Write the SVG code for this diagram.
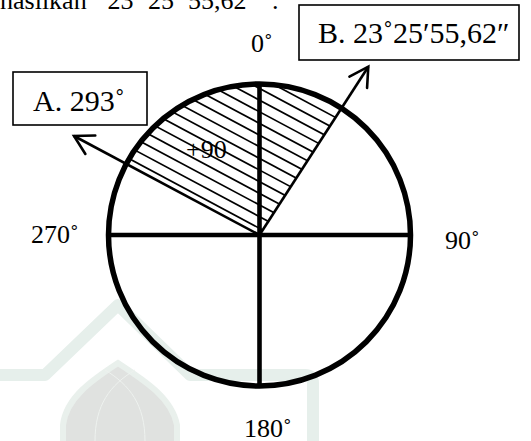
<svg xmlns="http://www.w3.org/2000/svg" width="531" height="441" viewBox="0 0 531 441">
<style>
  text { font-family: "Liberation Serif", "Times New Roman", serif; fill: #000; }
  .lbl { font-size: 26px; }
  .box { fill: #fff; stroke: #000; stroke-width: 1.6; }
  .boxtxt { font-size: 30px; }
  .hatch { stroke: #000; stroke-width: 1.7; }
  .arrow { stroke: #000; stroke-width: 2.6; fill: none; }
  .wm-band { fill: none; stroke: #e6efeb; stroke-width: 12; stroke-linejoin: round; }
</style>
<defs>
  <marker id="openV" markerUnits="userSpaceOnUse" markerWidth="30" markerHeight="30" viewBox="-24 -15 30 30" refX="0" refY="0" orient="auto" overflow="visible">
    <path d="M -18.5 -10.5 L 0 0 L -18.5 10.5" fill="none" stroke="#000" stroke-width="2.6" stroke-linecap="round" stroke-linejoin="miter"/>
  </marker>
  <clipPath id="sector">
    <path d="M 259.5 235 L 126.3 163.9 A 151 151 0 0 1 341.4 108.2 Z"/>
  </clipPath>
</defs>
<rect x="0" y="0" width="531" height="441" fill="#fff"/>

<g id="watermark">
  <path class="wm-band" d="M -10 375 L 45 375 L 118 305 L 190 375 L 305 375 Q 313 375 313 383 L 313 450"/>
  <path d="M 63 445 L 63 425 C 66 398 92 380 118 363 C 144 380 172 398 177 425 L 177 445 Z" fill="#e0e2e0" stroke="#e9f0ec" stroke-width="6"/>
  <path d="M 95 441 C 95 405 110 385 135 370 M 145 441 C 145 405 130 385 105 370" fill="none" stroke="#eef2ef" stroke-width="1"/>
</g>

<g id="top-text">
  <text class="lbl" y="9"><tspan x="0">hasilkan</tspan><tspan x="96">“23</tspan><tspan x="134">˚</tspan><tspan x="148">25</tspan><tspan x="174">′</tspan><tspan x="188">55,62</tspan><tspan x="251">″</tspan><tspan x="272">.</tspan></text>
</g>

<g id="compass">
  <g id="hatching" clip-path="url(#sector)">
    <line class="hatch" x1="83.1" y1="134.1" x2="435.9" y2="322.5"/>
    <line class="hatch" x1="83.1" y1="122.45" x2="435.9" y2="310.85"/>
    <line class="hatch" x1="83.1" y1="110.8" x2="435.9" y2="299.2"/>
    <line class="hatch" x1="83.1" y1="99.15" x2="435.9" y2="287.55"/>
    <line class="hatch" x1="83.1" y1="87.5" x2="435.9" y2="275.9"/>
    <line class="hatch" x1="83.1" y1="75.85" x2="435.9" y2="264.25"/>
    <line class="hatch" x1="83.1" y1="64.2" x2="435.9" y2="252.6"/>
    <line class="hatch" x1="83.1" y1="52.55" x2="435.9" y2="240.95"/>
    <line class="hatch" x1="83.1" y1="40.9" x2="435.9" y2="229.3"/>
    <line class="hatch" x1="83.1" y1="29.25" x2="435.9" y2="217.65"/>
    <line class="hatch" x1="83.1" y1="17.6" x2="435.9" y2="206.0"/>
    <line class="hatch" x1="83.1" y1="5.95" x2="435.9" y2="194.35"/>
    <line class="hatch" x1="83.1" y1="-5.7" x2="435.9" y2="182.7"/>
    <line class="hatch" x1="83.1" y1="-17.35" x2="435.9" y2="171.05"/>
  </g>
  <circle cx="259.5" cy="235" r="151" fill="none" stroke="#000" stroke-width="5.5"/>
  <line x1="107" y1="235" x2="412" y2="235" stroke="#000" stroke-width="4.6"/>
  <line x1="259.5" y1="84" x2="259.5" y2="386" stroke="#000" stroke-width="4.6"/>
  <text id="plus90" class="lbl" x="186" y="158">+90</text>
</g>

<g id="connectors">
  <line id="arrow-a" class="arrow" x1="259.5" y1="235" x2="74" y2="136" marker-end="url(#openV)"/>
  <line id="arrow-b" class="arrow" x1="259.5" y1="235" x2="368.3" y2="66.7" marker-end="url(#openV)"/>
</g>

<g id="label-0"><text class="lbl" x="251" y="52">0˚</text></g>
<g id="label-270"><text class="lbl" x="31" y="243">270˚</text></g>
<g id="label-90"><text class="lbl" x="445" y="249">90˚</text></g>
<g id="label-180"><text class="lbl" x="244" y="437">180˚</text></g>

<g id="box-a">
  <rect class="box" x="13" y="72" width="134" height="53"/>
  <text class="boxtxt" x="33" y="111">A. 293˚</text>
</g>
<g id="box-b">
  <rect class="box" x="299" y="5" width="220" height="55"/>
  <text class="boxtxt" x="318" y="43">B. 23˚25′55,62″</text>
</g>
</svg>
